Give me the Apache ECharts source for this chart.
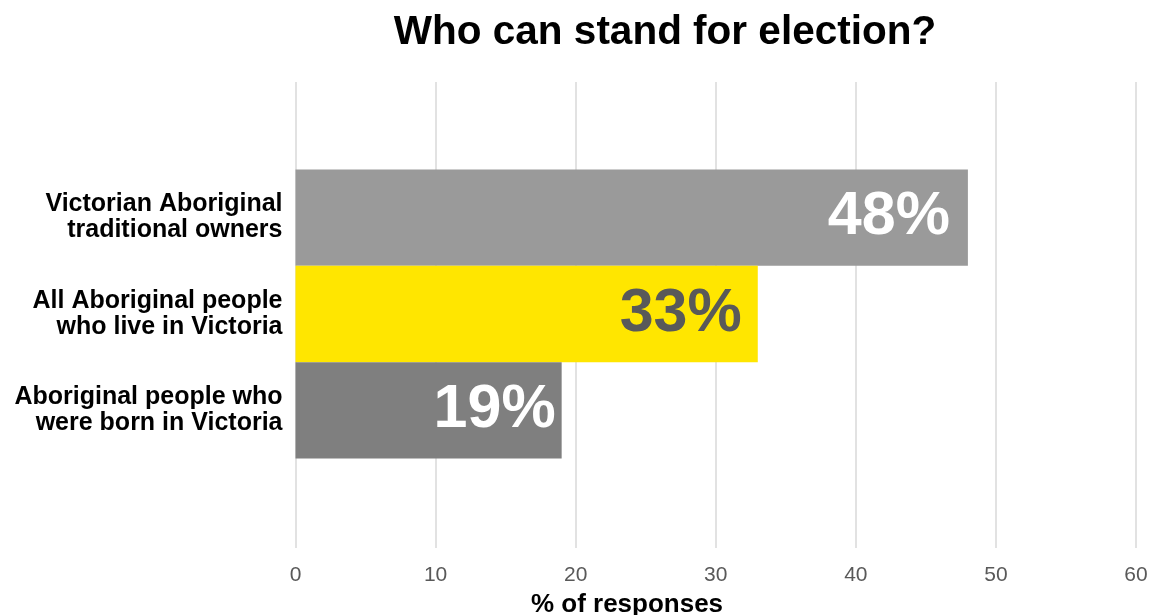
<!DOCTYPE html>
<html>
<head>
<meta charset="utf-8">
<style>
  html, body { margin: 0; padding: 0; background: #ffffff; }
  #chart { width: 1153px; height: 615px; }
</style>
<script src="https://cdn.jsdelivr.net/npm/echarts@6/dist/echarts.min.js"></script>
</head>
<body>
<div id="chart"></div>
<script>
// Survey answers, listed top to bottom
const categories = [
  'Victorian Aboriginal\ntraditional owners',
  'All Aboriginal people\nwho live in Victoria',
  'Aboriginal people who\nwere born in Victoria'
];
const shares = [48, 33, 19];           // % of responses
const barColors = ['#9a9a9a', '#ffe600', '#7f7f7f'];
const valueLabelColors = ['#ffffff', '#595959', '#ffffff'];
const valueLabelInset = [18, 16, 6];   // px between label and bar end

const FONT = '"Liberation Sans", Arial, Helvetica, sans-serif';

// An empty band above and below the three bars keeps them in the middle of the plot
const axisCategories = [''].concat(categories, ['']);
const barData = [null].concat(shares.map((v, i) => ({
  value: v,
  itemStyle: { color: barColors[i] },
  label: { color: valueLabelColors[i], distance: valueLabelInset[i] }
})), [null]);

const chart = echarts.init(document.getElementById('chart'));
chart.setOption({
  animation: false,
  backgroundColor: '#ffffff',
  title: [
    {
      text: 'Who can stand for election?',
      left: 660, top: 7, textAlign: 'center',
      textStyle: { fontFamily: FONT, fontSize: 40.5, fontWeight: 'bold', color: '#000000' }
    },
    {
      text: '% of responses',
      left: 622, top: 587, textAlign: 'center',
      textStyle: { fontFamily: FONT, fontSize: 26, fontWeight: 'bold', color: '#000000' }
    }
  ],
  grid: [
    { left: 295.5, right: 17, top: 73, bottom: 60 },   // bars
    { left: 295.5, right: 17, top: 82, bottom: 67 }    // gridlines and tick labels
  ],
  xAxis: [
    { gridIndex: 0, type: 'value', min: 0, max: 60, interval: 10, show: false },
    {
      gridIndex: 1, type: 'value', min: 0, max: 60, interval: 10,
      axisLine: { show: false }, axisTick: { show: false },
      splitLine: { show: true, lineStyle: { color: '#d9d9d9', width: 1.5 } },
      axisLabel: { fontFamily: FONT, fontSize: 21, color: '#595959', margin: 17 }
    }
  ],
  yAxis: [
    {
      gridIndex: 0, type: 'category', inverse: true, data: axisCategories,
      axisLine: { show: false }, axisTick: { show: false },
      axisLabel: {
        fontFamily: FONT, fontSize: 25, fontWeight: 'bold', color: '#000000',
        lineHeight: 26, margin: 13, align: 'right', interval: 0
      }
    },
    { gridIndex: 1, type: 'value', show: false }
  ],
  series: [{
    type: 'bar',
    xAxisIndex: 0, yAxisIndex: 0,
    data: barData,
    barWidth: '100%',
    barCategoryGap: 0,
    label: {
      show: true, position: 'insideRight',
      formatter: '{c}%',
      fontFamily: FONT, fontSize: 61, fontWeight: 'bold'
    }
  }]
});
</script>
</body>
</html>
